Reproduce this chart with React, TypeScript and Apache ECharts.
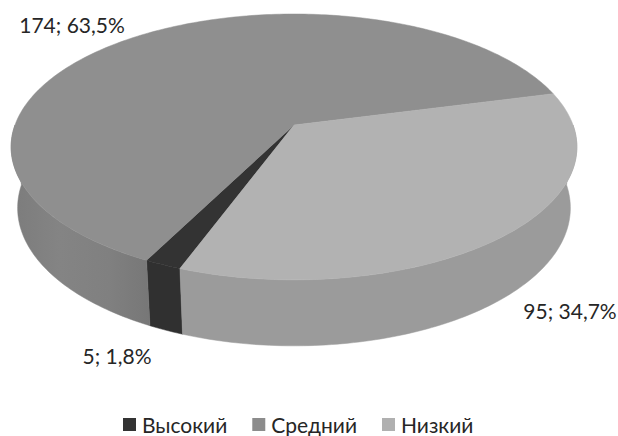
import React, { useEffect, useRef } from "react";
import * as echarts from "echarts";

const categories = ["Высокий", "Средний", "Низкий"];
const counts = [5, 174, 95];

const topColors = ["#333333", "#8f8f8f", "#b2b2b2"];
const legendColors = ["#333333", "#8c8c8c", "#b0b0b0"];

const FONT = "Lato, Carlito, 'Open Sans', sans-serif";

// Projection of the tilted disc: a unit circle seen in perspective.
const CX = 294;
const CY = 125;
const RX = 279;
const RY = 129.3;
const TILT = 0.165;
const BOTTOM_SCALE = 0.977;

// Angle (clockwise from east) where the last category ends and the first begins.
const LOW_START = -14.6;

const labelAnchors = [
  { x: 117, y: 355 },
  { x: 72, y: 24 },
  { x: 570, y: 310 },
];

const total = counts.reduce((a, b) => a + b, 0);

function project(deg: number) {
  const t = (deg * Math.PI) / 180;
  const u = Math.cos(t);
  const v = Math.sin(t);
  const w = 1 - TILT * v;
  return { x: CX + (RX * u) / w, y: CY + (RY * v) / w, v };
}

function bottomOf(deg: number) {
  const p = project(deg);
  return { x: CX + (p.x - CX) * BOTTOM_SCALE, y: p.y + 60 + 6 * p.v };
}

function arc(from: number, to: number, map: (d: number) => { x: number; y: number }) {
  const pts: number[][] = [];
  const n = Math.max(2, Math.ceil(Math.abs(to - from)));
  for (let i = 0; i <= n; i++) {
    const p = map(from + ((to - from) * i) / n);
    pts.push([p.x, p.y]);
  }
  return pts;
}

// Slices run clockwise: the last category starts at LOW_START, then the first, then the second.
function sliceRange(index: number) {
  const lowSweep = (counts[2] / total) * 360;
  const highSweep = (counts[0] / total) * 360;
  const midSweep = (counts[1] / total) * 360;
  if (index === 2) return [LOW_START, LOW_START + lowSweep];
  if (index === 0) return [LOW_START + lowSweep, LOW_START + lowSweep + highSweep];
  return [LOW_START + lowSweep + highSweep, LOW_START + lowSweep + highSweep + midSweep];
}

function wallFill(index: number): any {
  if (index === 0) return "#303030";
  if (index === 2) return "#9b9b9b";
  return new echarts.graphic.LinearGradient(0, 0, 1, 0, [
    { offset: 0, color: "#7c7c7c" },
    { offset: 0.35, color: "#848484" },
    { offset: 0.7, color: "#808080" },
    { offset: 1, color: "#777777" },
  ]);
}

function percentText(value: number) {
  return ((value / total) * 100).toFixed(1).replace(".", ",") + "%";
}

function makeRenderItem(index: number) {
  return (_params: any, api: any) => {
    const value = api.value(0);
    const [a0, a1] = sliceRange(index);
    const children: any[] = [];

    // Outer wall: only the part on the near half of the disc can be seen.
    const wallFrom = Math.max(a0, 0);
    const wallTo = Math.min(a1, 180);
    if (wallTo > wallFrom) {
      const wall = wallFill(index);
      children.push({
        type: "polygon",
        silent: true,
        shape: {
          points: [
            ...arc(wallFrom, wallTo, project),
            ...arc(wallTo, wallFrom, bottomOf),
          ],
        },
        style: { fill: wall, stroke: wall, lineWidth: 0.5 },
      });
    }

    // Top face.
    children.push({
      type: "polygon",
      silent: true,
      shape: { points: [[CX, CY], ...arc(a0, a1, project)] },
      style: { fill: topColors[index], stroke: topColors[index], lineWidth: 0.5 },
    });

    children.push({
      type: "text",
      silent: true,
      style: {
        x: labelAnchors[index].x,
        y: labelAnchors[index].y,
        text: `${value}; ${percentText(value)}`,
        fill: "#262626",
        font: `21px ${FONT}`,
        align: "center",
        verticalAlign: "middle",
      },
    });

    return { type: "group", children };
  };
}

export default function App() {
  const ref = useRef<HTMLDivElement>(null);

  useEffect(() => {
    if (!ref.current) return;
    const chart = echarts.init(ref.current, undefined, { renderer: "svg" });
    chart.setOption({
      animation: false,
      backgroundColor: "#ffffff",
      legend: {
        data: categories,
        left: 123,
        top: 414,
        icon: "rect",
        itemWidth: 13,
        itemHeight: 13,
        itemGap: 25,
        selectedMode: false,
        padding: 0,
        textStyle: { fontFamily: FONT, fontSize: 21, color: "#262626", padding: [0, 0, 0, 1] },
      },
      series: categories.map((name, i) => ({
        type: "custom",
        name,
        coordinateSystem: "none",
        itemStyle: { color: legendColors[i] },
        data: [[counts[i]]],
        renderItem: makeRenderItem(i),
      })),
    });
    return () => chart.dispose();
  }, []);

  return (
    <div
      ref={ref}
      style={{ position: "fixed", left: 0, top: 0, width: 618, height: 436 }}
    />
  );
}
